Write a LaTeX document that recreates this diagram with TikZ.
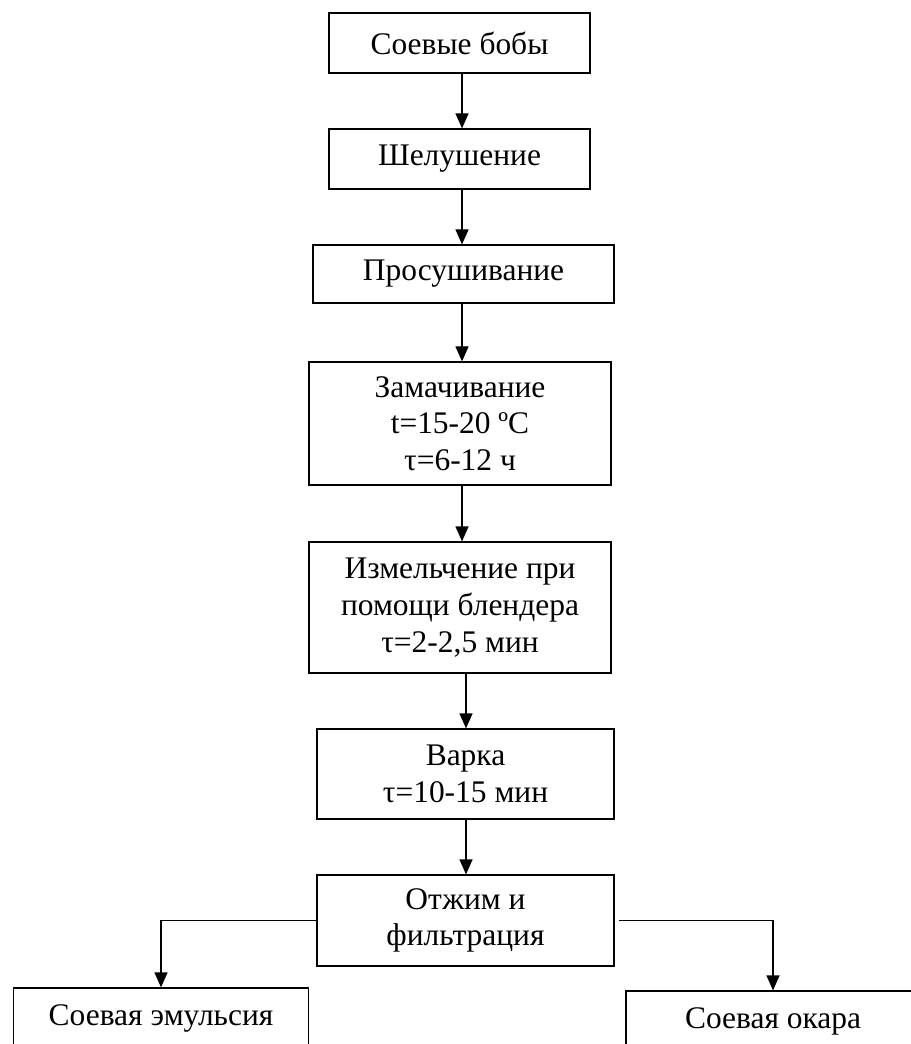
\documentclass[tikz,border=0pt]{standalone}
\usepackage{fontspec}
\setmainfont{Liberation Serif}
\usetikzlibrary{arrows.meta,positioning,calc}

\begin{document}
\begin{tikzpicture}[
  stepbox/.style={draw,line width=0.7pt,minimum width=5.22cm,minimum height=1.2cm,
    font=\fontsize{17.9}{20.9}\selectfont,align=center,inner sep=0pt},
  arr/.style={-{Triangle[length=0.3cm,width=0.26cm]},line width=0.7pt}
]
  \useasboundingbox (0,0) rectangle (18.2,-20.88);

  % main chain
  \node[stepbox] (beans) at (9.19,-0.86) {Соевые бобы};
  \node[stepbox] (husk) at (9.19,-3.18) {Шелушение};
  \node[stepbox,minimum width=6.02cm,minimum height=1.16cm] (dry) at (9.27,-5.48) {Просушивание};
  \node[stepbox,minimum width=6.04cm,minimum height=2.46cm] (soak) at (9.20,-8.47)
    {Замачивание\\t=15-20 ºC\\τ=6-12 ч};
  \node[stepbox,minimum width=6.04cm,minimum height=2.62cm] (grind) at (9.20,-12.15)
    {Измельчение при\\помощи блендера\\τ=2-2,5 мин};
  \node[stepbox,minimum width=5.94cm,minimum height=1.8cm] (boil) at (9.31,-15.48)
    {Варка\\τ=10-15 мин};
  \node[stepbox,minimum width=5.94cm,minimum height=1.82cm] (press) at (9.31,-18.41)
    {Отжим и\\фильтрация};

  % outputs
  \node[stepbox,minimum width=5.9cm] (milk) at (3.22,-20.36) {Соевая эмульсия};
  \node[stepbox,minimum width=5.88cm] (okara) at (15.46,-20.42) {Соевая окара};

  % arrows
  \coordinate (upper) at (9.24,0);
  \coordinate (lower) at (9.32,0);
  \draw[arr] (beans.south -| upper) -- (husk.north -| upper);
  \draw[arr] (husk.south -| upper) -- (dry.north -| upper);
  \draw[arr] (dry.south -| upper) -- (soak.north -| upper);
  \draw[arr] (soak.south -| upper) -- (grind.north -| upper);
  \draw[arr] (grind.south -| lower) -- (boil.north -| lower);
  \draw[arr] (boil.south -| lower) -- (press.north -| lower);

  % split
  \draw[arr] (press.west) -| (milk.north);
  \draw[arr] ([xshift=0.08cm]press.east) -| (okara.north);
\end{tikzpicture}
\end{document}
